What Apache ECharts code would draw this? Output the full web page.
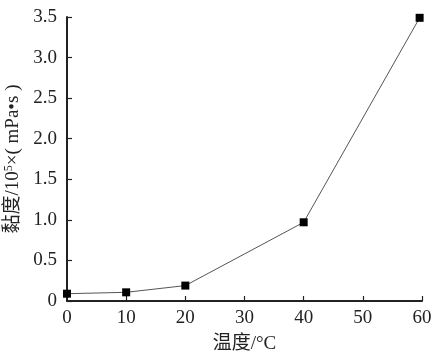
<!DOCTYPE html>
<html><head><meta charset="utf-8">
<script src="https://cdn.jsdelivr.net/npm/echarts@6/dist/echarts.min.js"></script>
<style>html,body{margin:0;padding:0;background:#fff}#c{width:443px;height:358px}</style>
</head><body><div id="c"></div>
<script>
const temps = [0, 10, 20, 40, 59.6];
const viscosity = [0.09, 0.107, 0.19, 0.97, 3.49];
const xTicks = [0, 10, 20, 30, 40, 50, 60];
const yTicks = [0, 0.5, 1.0, 1.5, 2.0, 2.5, 3.0, 3.5];

const serif = '"Liberation Serif", "Noto Sans CJK SC", serif';
const chart = echarts.init(document.getElementById('c'));
chart.setOption({
  animation: false,
  backgroundColor: '#fff',
  grid: { left: 67, right: 21, top: 17, bottom: 57, containLabel: false, outerBoundsMode: 'none' },
  xAxis: {
    type: 'value', min: xTicks[0], max: xTicks[xTicks.length-1], interval: 10,
    name: '温度/°C', nameLocation: 'middle', nameGap: 34,
    nameTextStyle: { fontFamily: serif, fontSize: 19, color: '#222' },
    axisLine: { show: true, lineStyle: { color: '#222', width: 2 } },
    axisTick: { show: true, inside: true, length: 5, lineStyle: { color: '#222', width: 1.2 } },
    axisLabel: { fontFamily: serif, fontSize: 19, color: '#222', margin: 8 },
    splitLine: { show: false }
  },
  yAxis: {
    type: 'value', min: yTicks[0], max: yTicks[yTicks.length-1], interval: 0.5,
    name: '{a|黏度/10}{s|5}{a|×( mPa•s )}', nameLocation: 'middle', nameGap: 40, nameRotate: 90,
    nameTextStyle: { rich: {
      a: { fontFamily: serif, fontSize: 19, color: '#222' },
      s: { fontFamily: serif, fontSize: 12, color: '#222', verticalAlign: 'top', padding: [0,0,8,0] }
    } },
    axisLine: { show: true, lineStyle: { color: '#222', width: 2 } },
    axisTick: { show: true, inside: true, length: 5, lineStyle: { color: '#222', width: 1.2 } },
    axisLabel: { fontFamily: serif, fontSize: 19, color: '#222', margin: 10,
      formatter: v => v === 0 ? '0' : v.toFixed(1) },
    splitLine: { show: false }
  },
  series: [{
    type: 'line',
    data: temps.map((t, i) => [t, viscosity[i]]),
    symbol: 'rect', symbolSize: 8,
    itemStyle: { color: '#000' },
    lineStyle: { color: '#555', width: 1 }
  }]
});
</script></body></html>
